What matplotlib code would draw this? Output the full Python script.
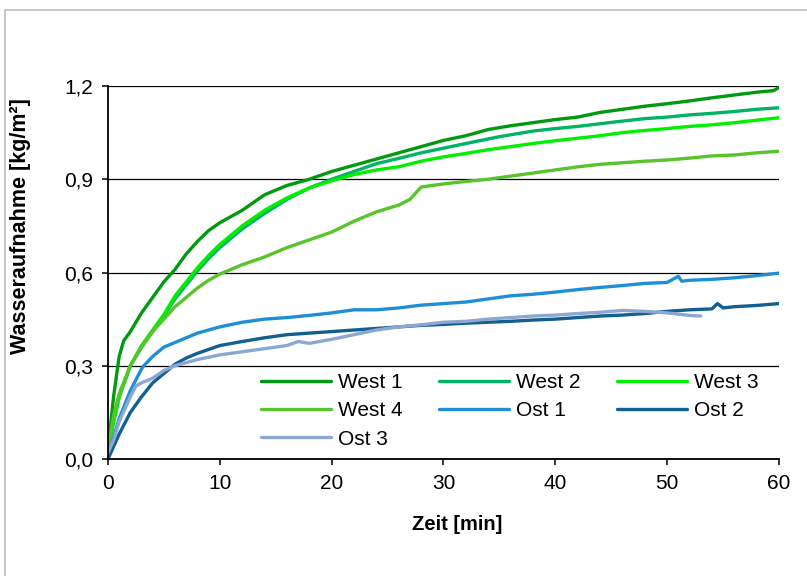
import matplotlib
matplotlib.use("Agg")
import matplotlib.pyplot as plt
from matplotlib.patches import Rectangle
from matplotlib.ticker import FuncFormatter

plt.rcParams['font.family'] = ['Liberation Sans', 'DejaVu Sans']

# Zeit [min] und Wasseraufnahme [kg/m²]
t_west1 = [0, 0.5, 1, 1.4, 2, 3, 4, 5, 6, 7, 8, 9, 10, 12, 14, 16, 18, 20, 22, 24, 26, 28, 30,
           32, 34, 36, 38, 40, 42, 44, 46, 48, 50, 52, 54, 56, 58, 59.5, 60]
west1 = [0.03, 0.2, 0.33, 0.38, 0.41, 0.47, 0.52, 0.57, 0.61, 0.66, 0.70, 0.735, 0.76, 0.80, 0.85,
         0.88, 0.90, 0.925, 0.945, 0.965, 0.985, 1.005, 1.025, 1.04, 1.06, 1.072, 1.082, 1.092,
         1.10, 1.115, 1.125, 1.135, 1.143, 1.152, 1.162, 1.171, 1.18, 1.185, 1.195]

t_west2 = [0, 0.5, 1, 2, 3, 4, 5, 6, 7, 8, 9, 10, 12, 14, 16, 18, 20, 22, 24, 26, 28, 30,
           32, 35, 38, 40, 42, 45.5, 48, 50, 52, 54, 56, 58, 60]
west2 = [0.03, 0.12, 0.2, 0.3, 0.36, 0.41, 0.46, 0.515, 0.56, 0.605, 0.645, 0.68, 0.74, 0.79,
         0.835, 0.872, 0.9, 0.925, 0.95, 0.967, 0.985, 1.0, 1.015, 1.037, 1.055, 1.063, 1.07,
         1.085, 1.095, 1.1, 1.107, 1.112, 1.118, 1.125, 1.13]

t_west3 = [0, 0.5, 1, 2, 3, 4, 5, 6, 7, 8, 9, 10, 12, 14, 16, 18, 20, 22, 24, 26, 28, 30,
           32, 34, 36, 38, 40, 42, 44, 46, 48, 50, 52, 54, 56, 58, 60]
west3 = [0.03, 0.12, 0.2, 0.3, 0.365, 0.415, 0.465, 0.525, 0.57, 0.615, 0.655, 0.69, 0.75, 0.80,
         0.84, 0.872, 0.895, 0.915, 0.93, 0.94, 0.958, 0.972, 0.983, 0.995, 1.005, 1.015, 1.024,
         1.032, 1.04, 1.05, 1.057, 1.063, 1.07, 1.075, 1.082, 1.09, 1.098]

t_west4 = [0, 0.5, 1, 2, 3, 4, 5, 6, 7, 8, 9, 10, 12, 14, 16, 18, 20, 22, 24, 26, 27, 28, 30,
           32, 34, 36, 38, 40, 42, 44, 46, 48, 50, 52, 54, 56, 58, 60]
west4 = [0.03, 0.14, 0.21, 0.3, 0.36, 0.41, 0.45, 0.49, 0.52, 0.55, 0.575, 0.595, 0.625, 0.65,
         0.68, 0.705, 0.73, 0.765, 0.795, 0.817, 0.835, 0.875, 0.885, 0.893, 0.90, 0.91, 0.92,
         0.93, 0.94, 0.948, 0.953, 0.958, 0.962, 0.968, 0.975, 0.978, 0.985, 0.99]

t_ost1 = [0, 0.5, 1, 2, 3, 3.2, 4, 5, 6, 7, 8, 10, 12, 14, 16, 18, 20, 22, 24, 26, 28, 30, 32,
          34, 36, 38, 40, 42, 44, 46, 48, 50, 51, 51.3, 52, 54, 56, 58, 60]
ost1 = [0.0, 0.07, 0.13, 0.22, 0.29, 0.3, 0.33, 0.36, 0.375, 0.39, 0.405, 0.425, 0.44, 0.45,
        0.455, 0.462, 0.47, 0.48, 0.48, 0.486, 0.495, 0.50, 0.505, 0.515, 0.525, 0.53, 0.537,
        0.545, 0.552, 0.558, 0.565, 0.568, 0.588, 0.572, 0.575, 0.578, 0.583, 0.59, 0.598]

t_ost2 = [0, 0.5, 1, 2, 3, 4, 5, 6, 7, 8, 10, 12, 14, 16, 18, 20, 22, 24, 26, 28, 30, 32, 34,
          36, 38, 40, 42, 44, 46, 48, 50, 52, 54, 54.5, 55, 56, 58, 60]
ost2 = [0.0, 0.04, 0.08, 0.15, 0.2, 0.245, 0.275, 0.305, 0.325, 0.34, 0.365, 0.378, 0.39, 0.4,
        0.405, 0.41, 0.415, 0.42, 0.425, 0.43, 0.433, 0.437, 0.44, 0.443, 0.447, 0.45, 0.455,
        0.46, 0.463, 0.468, 0.475, 0.48, 0.483, 0.5, 0.486, 0.49, 0.494, 0.50]

t_ost3 = [0, 0.5, 1, 2, 2.5, 3, 4, 5, 6, 7, 8, 10, 12, 14, 16, 17, 18, 20, 22, 24, 26, 28, 30,
          32, 34, 36, 38, 40, 42, 44, 46, 48, 50, 52, 53]
ost3 = [0.02, 0.06, 0.12, 0.2, 0.235, 0.245, 0.26, 0.285, 0.3, 0.31, 0.32, 0.335, 0.345, 0.355,
        0.365, 0.378, 0.372, 0.385, 0.40, 0.415, 0.425, 0.432, 0.44, 0.443, 0.45, 0.455, 0.46,
        0.463, 0.468, 0.472, 0.478, 0.475, 0.47, 0.462, 0.46]

series = [
    ('West 1', t_west1, west1, '#009A0E'),
    ('West 2', t_west2, west2, '#00B466'),
    ('West 3', t_west3, west3, '#00F000'),
    ('West 4', t_west4, west4, '#56C42A'),
    ('Ost 1', t_ost1, ost1, '#1E8FD6'),
    ('Ost 2', t_ost2, ost2, '#12608F'),
    ('Ost 3', t_ost3, ost3, '#8CA8D2'),
]

fig = plt.figure(figsize=(8.07, 5.76), dpi=100)
ax = fig.add_axes([0.1338, 0.2031, 0.8315, 0.6476])

# grauer Rahmen um das Diagramm
fig.patches.append(Rectangle((0.0068, -0.2), 1.3, 0.9818 + 0.2, transform=fig.transFigure,
                             fill=False, edgecolor='#BDBDBD', linewidth=1.2))

lines = []
for name, t, v, c in series:
    ln, = ax.plot(t, v, color=c, linewidth=2.4, label=name, solid_capstyle='round')
    lines.append(ln)

ax.set_xlim(0, 60)
ax.set_ylim(0, 1.2)
ax.set_xticks(range(0, 61, 10))
ax.set_yticks([0, 0.3, 0.6, 0.9, 1.2])
ax.yaxis.set_major_formatter(FuncFormatter(lambda v, p: f'{v:.1f}'.replace('.', ',')))
ax.grid(axis='y', color='black', linewidth=0.9)
ax.set_axisbelow(True)
for s in ['top', 'right']:
    ax.spines[s].set_visible(False)
for s in ['left', 'bottom']:
    ax.spines[s].set_linewidth(1.3)
ax.tick_params(direction='out', length=4.5, width=1.1, labelsize=15, pad=6)

ax.set_xlabel('Zeit [min]', fontsize=14.5, fontweight='bold')
ax.set_ylabel('Wasseraufnahme [kg/m²]', fontsize=15.5, fontweight='bold')
ax.xaxis.set_label_coords(0.52, -0.15)
ax.yaxis.set_label_coords(-0.115, 0.625)

# Legende zeilenweise wie im Original (matplotlib füllt spaltenweise)
order = [0, 3, 6, 1, 4, 2, 5]
leg = ax.legend([lines[i] for i in order], [series[i][0] for i in order],
                ncol=3, loc='upper left', bbox_to_anchor=(0.22, 0.245), fontsize=15,
                frameon=True, fancybox=False, edgecolor='none', facecolor='white',
                framealpha=1, handlelength=3.35, handletextpad=0.35, columnspacing=1.75,
                labelspacing=0.45, borderpad=0.25, borderaxespad=0)

fig.savefig('out.png', dpi=100)
